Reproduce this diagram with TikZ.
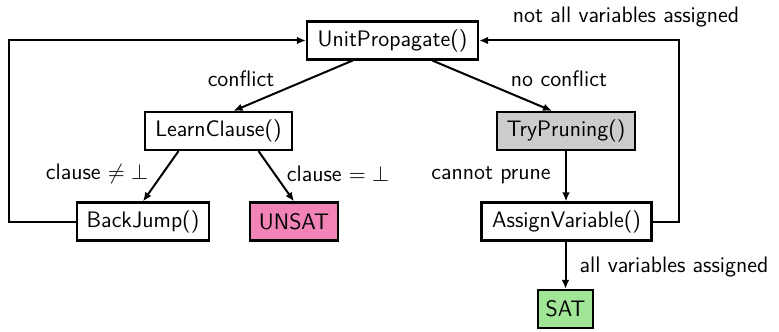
\documentclass[tikz,border=0pt]{standalone}
\usetikzlibrary{arrows.meta}
\definecolor{unsatpink}{RGB}{242,131,182}
\definecolor{satgreen}{RGB}{160,230,150}
\definecolor{prunegray}{RGB}{204,204,204}
\begin{document}
\begin{tikzpicture}[x=0.5pt,y=-0.5pt,
  every node/.style={font=\sffamily\fontsize{11.2}{13}\selectfont},
  box/.style={draw, line width=1.1pt, minimum height=19pt, inner xsep=3pt, inner ysep=0pt},
  flow/.style={line width=1pt, -{Latex[length=4.5pt,width=3.8pt]}},
  lbl/.style={inner sep=0pt}]
\useasboundingbox (0,0) rectangle (779,331);

% states of the solver
\node[box, minimum width=85.5pt] (up) at (392.5,40.5) {UnitPropagate()};
\node[box, minimum width=73.5pt] (lc) at (218.5,131) {LearnClause()};
\node[box, minimum width=69pt, fill=prunegray] (tp) at (566,131) {TryPruning()};
\node[box, minimum width=66pt] (bj) at (143,221.5) {BackJump()};
\node[box, minimum width=44pt, fill=unsatpink] (unsat) at (294,221.5) {UNSAT};
\node[box, minimum width=85pt] (av) at (566.5,221.5) {AssignVariable()};
\node[box, minimum width=27.5pt, fill=satgreen] (sat) at (565.5,309) {SAT};

% transitions
\draw[flow] ([xshift=-20pt]up.south) -- ([xshift=7.5pt]lc.north);
\draw[flow] ([xshift=20pt]up.south) -- ([xshift=-7pt]tp.north);
\draw[flow] ([xshift=-20pt]lc.south) -- (bj.north);
\draw[flow] ([xshift=20pt]lc.south) -- (unsat.north);
\draw[flow] (tp.south) -- (tp.south |- av.north);
\draw[flow] (av.south -| sat.north) -- (sat.north);
\draw[flow] (bj.west) -- ++(-67,0) |- (up.west);
\draw[flow] (av.east) -- ++(26,0) |- (up.east);

% transition labels
\node[lbl] at (241,79) {conflict};
\node[lbl] at (559,79) {no conflict};
\node[lbl] at (626,17) {not all variables assigned};
\node[lbl] at (97,174) {clause $\neq\bot$};
\node[lbl] at (338,174) {clause $=\bot$};
\node[lbl] at (491,175) {cannot prune};
\node[lbl] at (674,267) {all variables assigned};
\end{tikzpicture}
\end{document}
